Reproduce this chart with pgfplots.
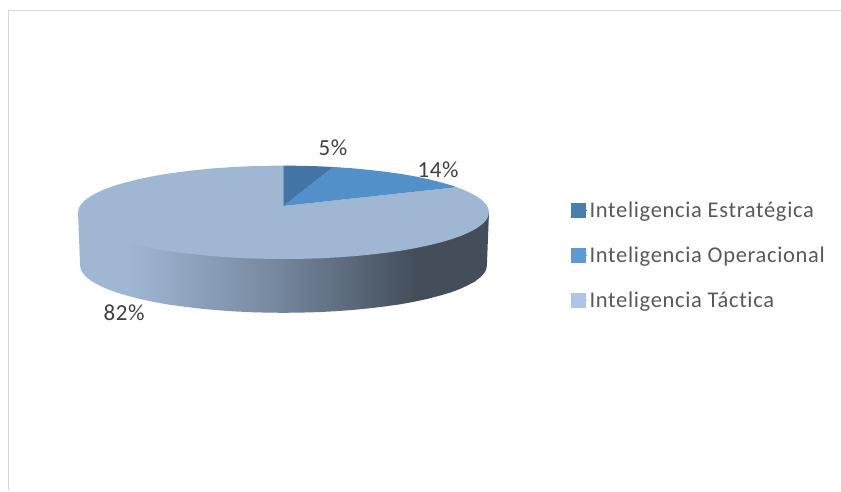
\documentclass[border=0pt]{standalone}
\usepackage{fontspec}
\setmainfont{Carlito}
\newfontfamily\legfont[LetterSpace=3,Ligatures=NoCommon]{Carlito}
\newfontfamily\labfont[LetterSpace=2.5]{Carlito}
\usepackage{pgfplots}
\pgfplotsset{compat=1.18}
\definecolor{topA}{HTML}{4375A6}
\definecolor{topB}{HTML}{5190C8}
\definecolor{topC}{HTML}{A0B7D4}
\definecolor{legA}{HTML}{4A7EB0}
\definecolor{legB}{HTML}{5B9BD5}
\definecolor{legC}{HTML}{ADC5E7}
\definecolor{sideM}{HTML}{76889F}
\definecolor{sideD}{HTML}{444E5B}
\definecolor{txt}{HTML}{404040}
\definecolor{legtxt}{HTML}{595959}
\definecolor{frame}{HTML}{D9D9D9}
\pgfdeclarehorizontalshading{pieside}{100bp}{color(0bp)=(topC); color(31bp)=(topC); color(49bp)=(sideM); color(66bp)=(sideD); color(100bp)=(sideD)}
\begin{document}
\begin{tikzpicture}
\begin{axis}[
  width=841pt,height=491pt,scale only axis,
  xmin=0,xmax=841,ymin=0,ymax=491,y dir=reverse,
  hide axis,
  legend style={at={(axis cs:571,199.5)},anchor=north west,draw=none,fill=none,
    font=\legfont\fontsize{22.5}{25}\selectfont\color{legtxt},
    cells={anchor=west},row sep=24pt,inner xsep=0pt,inner ysep=0pt,
    /tikz/every even column/.append style={column sep=0pt}},
  legend image code/.code={\fill[#1] (0pt,-7pt) rectangle (14pt,7pt);\path (0pt,0pt) -- (16pt,0pt);},
]
\addlegendimage{legA}\addlegendentry{Inteligencia Estratégica}
\addlegendimage{legB}\addlegendentry{Inteligencia Operacional}
\addlegendimage{legC}\addlegendentry{Inteligencia Táctica}
\path (rel axis cs:0,0) rectangle (rel axis cs:1,1);
% frame
\addplot[forget plot,frame,line width=1.5pt] coordinates {(8.5,491) (8.5,10.5) (841,10.5)};
% side wall
\addplot[forget plot,draw=none,shading=pieside] coordinates {
(78,212.3)(489,212.3)(486.9,265.3)(486.2,269.5)(483.9,273.5)(480.0,277.6)(474.7,281.6)(467.8,285.3)(459.7,289.1)(450.1,292.6)(439.3,295.8)(427.3,298.9)(414.3,301.7)(400.2,304.3)(385.3,306.4)(369.4,308.3)(353.1,309.9)(336.2,311.2)(318.8,312.1)(301.2,312.6)(283.5,312.8)(265.8,312.6)(248.2,312.1)(230.8,311.2)(213.9,309.9)(197.6,308.3)(181.7,306.4)(166.8,304.3)(152.7,301.7)(139.7,298.9)(127.7,295.8)(116.9,292.6)(107.3,289.1)(99.2,285.3)(92.3,281.6)(87.0,277.6)(83.1,273.5)(80.8,269.5)(80.1,265.3)
} -- cycle;
% Inteligencia Tactica 82%
\addplot[forget plot,draw=none,fill=topC] coordinates {
(283.3,206)(456.8,187.2)(461.5,188.9)(469.7,192.6)(476.6,196.3)(482.0,200.2)(485.9,204.2)(488.2,208.2)(489.0,212.3)(488.2,216.4)(485.9,220.4)(482.0,224.4)(476.6,228.3)(469.7,232.0)(461.5,235.7)(451.8,239.1)(440.9,242.3)(428.8,245.3)(415.6,248.1)(401.4,250.6)(386.3,252.7)(370.3,254.6)(353.8,256.2)(336.7,257.4)(319.2,258.3)(301.4,258.8)(283.5,259.0)(265.6,258.8)(247.8,258.3)(230.3,257.4)(213.2,256.2)(196.7,254.6)(180.7,252.7)(165.6,250.6)(151.4,248.1)(138.2,245.3)(126.1,242.3)(115.2,239.1)(105.5,235.7)(97.3,232.0)(90.4,228.3)(85.0,224.4)(81.1,220.4)(78.8,216.4)(78.0,212.3)(78.8,208.2)(81.1,204.2)(85.0,200.2)(90.4,196.3)(97.3,192.6)(105.5,188.9)(115.2,185.5)(126.1,182.3)(138.2,179.3)(151.4,176.5)(165.6,174.0)(180.7,171.9)(196.7,170.0)(213.2,168.4)(230.3,167.2)(247.8,166.3)(265.6,165.8)(283.5,165.6)
} -- cycle;
% Inteligencia Operacional 14%
\addplot[forget plot,draw=none,fill=topB] coordinates {
(283.3,206)(333.3,167.0)(336.7,167.2)(353.8,168.4)(370.3,170.0)(386.3,171.9)(401.4,174.0)(415.6,176.5)(428.8,179.3)(440.9,182.3)(451.8,185.5)(456.8,187.2)
} -- cycle;
% Inteligencia Estrategica 5%
\addplot[forget plot,draw=none,fill=topA] coordinates {
(283.3,206)(283.5,165.6)(301.4,165.8)(319.2,166.3)(333.3,167.0)
} -- cycle;
\node[txt,font=\labfont\fontsize{23}{26}\selectfont] at (axis cs:333,148) {5\%};
\node[txt,font=\labfont\fontsize{23}{26}\selectfont] at (axis cs:438,170) {14\%};
\node[txt,font=\labfont\fontsize{23}{26}\selectfont] at (axis cs:124,313) {82\%};
\end{axis}
\end{tikzpicture}
\end{document}
